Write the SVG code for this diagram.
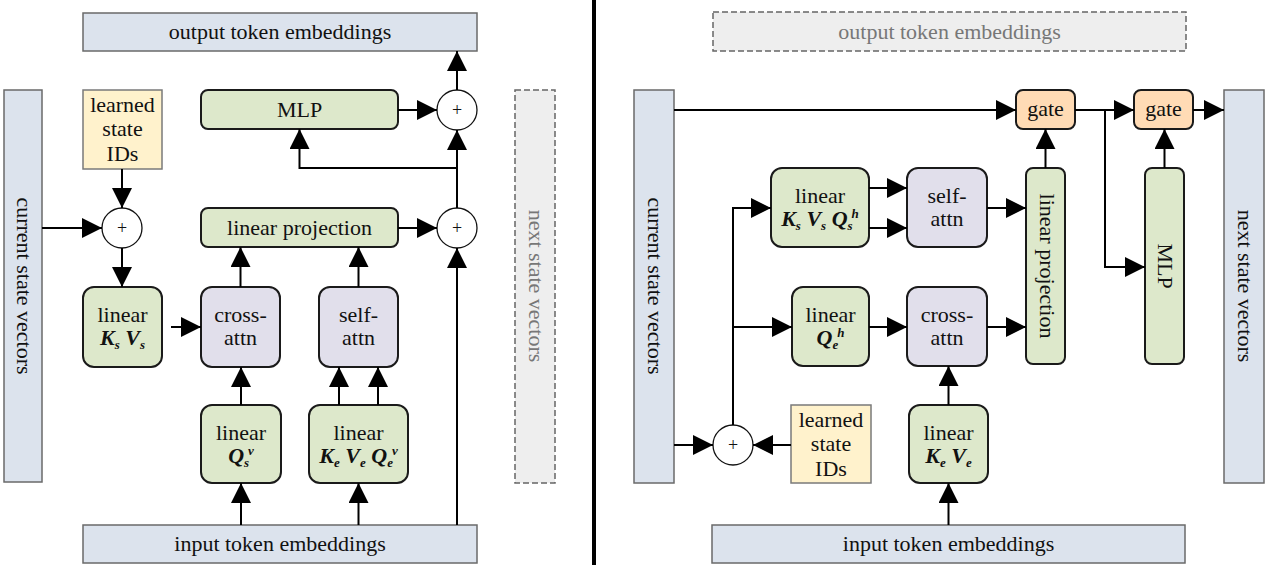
<svg xmlns="http://www.w3.org/2000/svg" width="1266" height="565" viewBox="0 0 1266 565" font-family="'Liberation Serif', 'DejaVu Serif', serif">
<style>
text{font-family:'Liberation Serif','DejaVu Serif',serif;font-size:22px;fill:#111;text-anchor:middle}
.blue{fill:#dce3ed;stroke:#6a6a6a;stroke-width:1.5}
.dash{fill:#eeeeee;stroke:#666;stroke-width:1.5;stroke-dasharray:6 3}
.dtext{fill:#777}
.green{fill:#dde8cb;stroke:#1a1a1a;stroke-width:2}
.purple{fill:#e1dfeb;stroke:#1a1a1a;stroke-width:2}
.yellow{fill:#fff2cc;stroke:#7a7a7a;stroke-width:1.5}
.peach{fill:#ffdbb5;stroke:#1a1a1a;stroke-width:2}
.plus{fill:#fff;stroke:#111;stroke-width:1.3}
.ptext{font-size:18px}
.m{font-weight:bold;font-style:italic}
.sub{font-size:13px;font-weight:bold;font-style:italic}
.conn path{fill:none;stroke:#000;stroke-width:2;marker-end:url(#ah)}
</style>
<defs>
<marker id="ah" markerUnits="userSpaceOnUse" markerWidth="20" markerHeight="20" refX="20" refY="10" orient="auto">
<path d="M0,0 L20,10 L0,20 z" fill="#000"/>
</marker>
</defs>
<rect x="592" y="0" width="4" height="565" fill="#000"/>

<!-- LEFT PANEL -->
<g id="L-output"><rect class="blue" x="83" y="13" width="394" height="38"/><text x="280" y="39">output token embeddings</text></g>
<g id="L-current"><rect class="blue" x="4" y="90" width="38" height="392"/><text transform="translate(23,286) rotate(90)" x="0" y="6">current state vectors</text></g>
<g id="L-ids"><rect class="yellow" x="83" y="90" width="79" height="79"/><text x="122.5" y="112">learned</text><text x="122.5" y="136">state</text><text x="122.5" y="161">IDs</text></g>
<g id="L-mlp"><rect class="green" x="201" y="90" width="197" height="39" rx="7"/><text x="299.5" y="117">MLP</text></g>
<g id="L-plus1"><circle class="plus" cx="122" cy="228" r="20"/><text class="ptext" x="122" y="234">+</text></g>
<g id="L-plus2"><circle class="plus" cx="457" cy="228" r="20"/><text class="ptext" x="457" y="234">+</text></g>
<g id="L-plus3"><circle class="plus" cx="457" cy="110" r="20"/><text class="ptext" x="457" y="116">+</text></g>
<g id="L-linproj"><rect class="green" x="201" y="208" width="197" height="39" rx="7"/><text x="299.5" y="235">linear projection</text></g>
<g id="L-linKV"><rect class="green" x="83" y="287" width="79" height="80" rx="11"/><text x="122.5" y="322">linear</text><text x="122.5" y="345"><tspan class="m">K</tspan><tspan class="sub" dy="4">s</tspan><tspan class="m" dy="-4"> V</tspan><tspan class="sub" dy="4">s</tspan></text></g>
<g id="L-cross"><rect class="purple" x="201" y="287" width="79" height="80" rx="11"/><text x="240.5" y="322">cross-</text><text x="240.5" y="345">attn</text></g>
<g id="L-self"><rect class="purple" x="319" y="287" width="79" height="80" rx="11"/><text x="358.5" y="322">self-</text><text x="358.5" y="345">attn</text></g>
<g id="L-linQ"><rect class="green" x="201" y="405" width="80" height="78" rx="11"/><text x="241" y="440">linear</text><text x="241" y="463"><tspan class="m">Q</tspan><tspan class="sub" dy="4">s</tspan><tspan class="sub" dx="-1" dy="-12">v</tspan></text></g>
<g id="L-linKVQ"><rect class="green" x="309" y="405" width="99" height="78" rx="11"/><text x="358.5" y="440">linear</text><text x="358.5" y="463"><tspan class="m">K</tspan><tspan class="sub" dy="4">e</tspan><tspan class="m" dy="-4"> V</tspan><tspan class="sub" dy="4">e</tspan><tspan class="m" dy="-4"> Q</tspan><tspan class="sub" dy="4">e</tspan><tspan class="sub" dx="-1" dy="-12">v</tspan></text></g>
<g id="L-next"><rect class="dash" x="515" y="90" width="40" height="393"/><text class="dtext" transform="translate(535,286) rotate(90)" x="0" y="6">next state vectors</text></g>
<g id="L-input"><rect class="blue" x="83" y="525" width="394" height="38"/><text x="280" y="551">input token embeddings</text></g>

<!-- RIGHT PANEL -->
<g id="R-output"><rect class="dash" x="713" y="12" width="473" height="39"/><text class="dtext" x="949.5" y="39">output token embeddings</text></g>
<g id="R-current"><rect class="blue" x="634" y="90" width="40" height="393"/><text transform="translate(654,286) rotate(90)" x="0" y="6">current state vectors</text></g>
<g id="R-next"><rect class="blue" x="1224" y="90" width="40" height="393"/><text transform="translate(1244,286) rotate(90)" x="0" y="6">next state vectors</text></g>
<g id="R-gate1"><rect class="peach" x="1016" y="90" width="59" height="39" rx="7"/><text x="1045.5" y="116">gate</text></g>
<g id="R-gate2"><rect class="peach" x="1134" y="90" width="59" height="39" rx="7"/><text x="1163.5" y="116">gate</text></g>
<g id="R-linKVQ"><rect class="green" x="771" y="168" width="98" height="79" rx="11"/><text x="820" y="203">linear</text><text x="820" y="226"><tspan class="m">K</tspan><tspan class="sub" dy="4">s</tspan><tspan class="m" dy="-4"> V</tspan><tspan class="sub" dy="4">s</tspan><tspan class="m" dy="-4"> Q</tspan><tspan class="sub" dy="4">s</tspan><tspan class="sub" dx="-1" dy="-12">h</tspan></text></g>
<g id="R-self"><rect class="purple" x="907" y="168" width="80" height="79" rx="11"/><text x="947" y="203">self-</text><text x="947" y="226">attn</text></g>
<g id="R-linproj"><rect class="green" x="1026" y="168" width="39" height="196" rx="7"/><text transform="translate(1045.5,266) rotate(90)" x="0" y="6">linear projection</text></g>
<g id="R-mlp"><rect class="green" x="1145" y="168" width="39" height="196" rx="7"/><text transform="translate(1164.5,266) rotate(90)" x="0" y="7">MLP</text></g>
<g id="R-linQ"><rect class="green" x="792" y="287" width="77" height="79" rx="11"/><text x="830.5" y="322">linear</text><text x="830.5" y="345"><tspan class="m">Q</tspan><tspan class="sub" dy="4">e</tspan><tspan class="sub" dx="-1" dy="-12">h</tspan></text></g>
<g id="R-cross"><rect class="purple" x="907" y="287" width="80" height="79" rx="11"/><text x="947" y="322">cross-</text><text x="947" y="345">attn</text></g>
<g id="R-plus"><circle class="plus" cx="733" cy="445" r="20"/><text class="ptext" x="733" y="451">+</text></g>
<g id="R-ids"><rect class="yellow" x="791" y="405" width="80" height="78"/><text x="831" y="427">learned</text><text x="831" y="451">state</text><text x="831" y="476">IDs</text></g>
<g id="R-linKV"><rect class="green" x="909" y="405" width="79" height="78" rx="11"/><text x="948.5" y="440">linear</text><text x="948.5" y="463"><tspan class="m">K</tspan><tspan class="sub" dy="4">e</tspan><tspan class="m" dy="-4"> V</tspan><tspan class="sub" dy="4">e</tspan></text></g>
<g id="R-input"><rect class="blue" x="712" y="525" width="473" height="38"/><text x="948.5" y="551">input token embeddings</text></g>

<g id="connectors" class="conn">
<path d="M42,228 H102"/>
<path d="M122,169 V208"/>
<path d="M122,248 V287"/>
<path d="M171,327 H201"/>
<path d="M240.5,287 V247"/>
<path d="M358.5,287 V247"/>
<path d="M398,228 H437"/>
<path d="M457,525 V248"/>
<path d="M241,405 V367"/>
<path d="M241,525 V483"/>
<path d="M339,405 V367"/>
<path d="M378,405 V367"/>
<path d="M358.5,525 V483"/>
<path d="M457,208 V130"/>
<path d="M457,168 H299.5 V129"/>
<path d="M398,110 H437"/>
<path d="M457,90 V51"/>
<path d="M674,110 H1016"/>
<path d="M1075,110 H1134"/>
<path d="M1105,110 V267 H1145"/>
<path d="M1193,110 H1224"/>
<path d="M1045.5,168 V129"/>
<path d="M1164.5,168 V129"/>
<path d="M674,445 H713"/>
<path d="M791,445 H753"/>
<path d="M733,425 V208 H771"/>
<path d="M733,327 H792"/>
<path d="M869,188 H907"/>
<path d="M869,228 H907"/>
<path d="M987,208 H1026"/>
<path d="M869,327 H907"/>
<path d="M987,327 H1026"/>
<path d="M948.5,405 V366"/>
<path d="M948.5,525 V483"/>
</g>
</svg>
